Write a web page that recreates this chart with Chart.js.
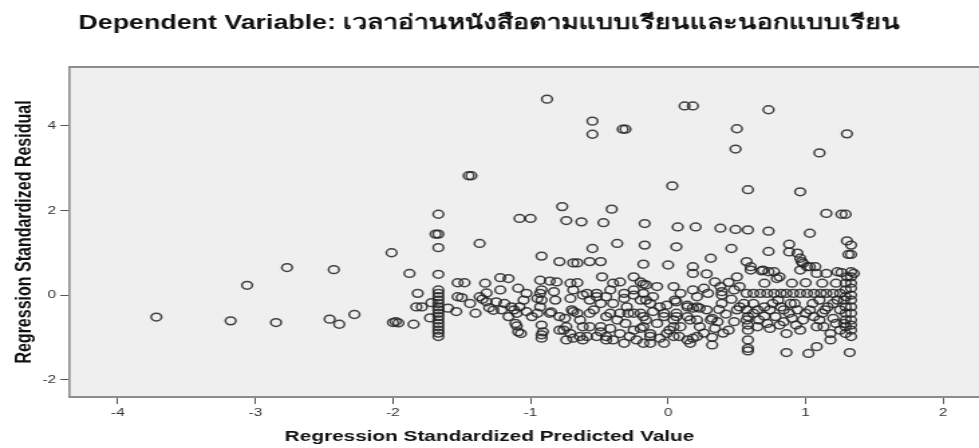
<!DOCTYPE html>
<html>
<head>
<meta charset="utf-8">
<script src="https://cdn.jsdelivr.net/npm/chart.js@4.4.1/dist/chart.umd.min.js"></script>
<style>
  html, body { margin: 0; padding: 0; background: #fff; overflow: hidden; }
  /* the source picture is stretched sideways, so the chart is drawn narrow and scaled */
  #wrap { width: 731px; height: 448px; transform: scaleX(1.3393); transform-origin: 0 0; }
</style>
</head>
<body>
<div id="wrap"><canvas id="residualChart" width="731" height="448"></canvas></div>
<script>
const chartTitle = 'Dependent Variable: เวลาอ่านหนังสือตามแบบเรียนและนอกแบบเรียน';
const xTitle = 'Regression Standardized Predicted Value';
const yTitle = 'Regression Standardized Residual';
const xTicks = [-4, -3, -2, -1, 0, 1, 2];
const yTicks = [-2, 0, 2, 4];

// [standardized predicted value, standardized residual]
const residualPoints = [
  [-3.72,-0.52],[-3.18,-0.61],[-3.06,0.23],[-2.85,-0.65],[-2.77,0.65],[-2.43,0.60],[-2.46,-0.57],[-2.39,-0.69],[-2.28,-0.46],
  [-2.01,1.00],[-2.00,-0.65],[-1.98,-0.63],[-1.96,-0.66],
  [-1.88,0.51],[-1.82,0.04],[-1.83,-0.28],[-1.79,-0.28],[-1.85,-0.69],[-1.73,-0.54],[-1.72,-0.18],
  [-1.67,1.91],[-1.69,1.44],[-1.67,1.44],[-1.67,1.12],[-1.67,0.49],[-1.67,0.12],[-1.67,0.04],[-1.67,-0.04],[-1.67,-0.12],[-1.67,-0.20],
  [-1.67,-0.28],[-1.67,-0.35],[-1.67,-0.43],[-1.67,-0.51],[-1.67,-0.59],[-1.67,-0.67],[-1.67,-0.75],[-1.67,-0.83],[-1.67,-0.90],[-1.67,-0.98],
  [-1.60,-0.31],[-1.54,-0.39],[-1.53,0.29],[-1.48,0.29],[-1.53,-0.04],[-1.50,-0.06],[-1.45,2.82],[-1.43,2.82],[-1.44,-0.20],[-1.40,-0.43],
  [-1.37,1.22],[-1.37,-0.04],[-1.35,-0.10],[-1.33,0.28],[-1.32,-0.16],[-1.32,0.05],[-1.30,-0.30],[-1.27,-0.36],
  [-1.22,0.41],[-1.22,0.12],[-1.25,-0.16],[-1.19,-0.20],[-1.21,-0.35],[-1.16,0.39],[-1.16,-0.51],[-1.14,-0.28],[-1.12,-0.35],[-1.11,-0.67],
  [-1.10,-0.43],[-1.10,-0.73],[-1.09,0.16],[-1.09,-0.87],[-1.08,1.81],[-1.08,-0.28],[-1.07,-0.91],[-1.05,-0.12],[-1.03,0.04],[-1.03,-0.39],
  [-1.00,1.81],[-0.99,-0.51],
  [-0.95,-0.08],[-0.95,-0.43],[-0.93,0.35],[-0.92,0.92],[-0.93,0.04],[-0.93,-0.28],[-0.92,0.12],[-0.92,-0.12],[-0.92,-0.71],[-0.91,-0.87],
  [-0.92,-1.02],[-0.92,-0.94],
  [-0.88,4.63],[-0.86,0.33],[-0.86,-0.43],[-0.83,0.08],[-0.82,-0.12],[-0.85,-0.40],[-0.81,0.31],[-0.79,0.79],[-0.79,-0.51],[-0.79,-0.83],
  [-0.77,2.09],[-0.76,-0.83],[-0.75,-0.55],[-0.74,1.76],[-0.74,-0.75],[-0.74,-1.06],
  [-0.71,-0.91],[-0.71,0.28],[-0.71,-0.08],[-0.70,-0.35],[-0.69,0.76],[-0.69,0.12],[-0.69,-0.39],[-0.69,-1.02],[-0.66,0.29],[-0.66,0.76],
  [-0.66,-0.43],[-0.64,-0.59],[-0.64,-0.98],[-0.63,1.73],[-0.62,0.00],[-0.62,-0.75],[-0.62,-1.06],[-0.59,-0.98],[-0.59,0.04],[-0.57,0.79],
  [-0.57,-0.12],[-0.57,-0.43],[-0.57,-0.75],[-0.55,4.11],[-0.55,3.80],[-0.55,1.10],[-0.54,-0.35],[-0.52,-0.04],[-0.52,0.04],[-0.52,-0.98],
  [-0.49,0.79],[-0.49,-0.20],[-0.49,-0.75],[-0.49,-0.87],[-0.48,0.43],[-0.47,1.71],
  [-0.45,-0.98],[-0.45,-0.04],[-0.45,-0.51],[-0.45,-1.06],[-0.42,0.12],[-0.42,-0.43],[-0.42,-0.79],[-0.41,2.03],[-0.40,0.28],[-0.40,-0.20],
  [-0.40,-1.06],[-0.37,1.22],[-0.37,-0.59],[-0.35,0.31],[-0.35,-0.43],[-0.35,-0.91],[-0.33,3.92],[-0.31,3.92],[-0.32,0.04],[-0.32,-0.08],
  [-0.32,-1.14],[-0.31,-0.67],[-0.30,-0.28],[-0.29,-0.43],[-0.28,-0.98],[-0.25,0.43],[-0.25,0.12],[-0.25,0.00],[-0.25,-0.43],[-0.25,-0.83],
  [-0.23,-1.06],
  [-0.20,0.31],[-0.20,-0.12],[-0.20,-0.43],[-0.20,-0.79],[-0.18,0.26],[-0.18,0.73],[-0.18,0.04],[-0.18,-0.51],[-0.18,-0.75],[-0.18,-1.14],
  [-0.17,1.69],[-0.17,1.18],[-0.16,-0.12],[-0.16,-0.59],[-0.16,0.24],[-0.13,-0.20],[-0.13,-0.91],[-0.13,-0.98],[-0.13,-1.14],[-0.11,-0.04],
  [-0.11,-0.39],[-0.08,0.20],[-0.08,-0.67],[-0.06,-0.28],[-0.06,-1.02],[-0.03,-0.43],[-0.03,-0.51],[-0.03,-1.14],[-0.01,-0.24],[-0.01,-0.91],
  [0.00,0.71],[0.01,-0.83],
  [0.03,2.58],[0.04,0.20],[0.04,-0.75],[0.04,-0.59],[0.04,-0.98],[0.05,-0.12],[0.06,-0.43],[0.06,-0.16],[0.06,-0.51],[0.06,1.14],
  [0.07,1.61],[0.08,-0.98],[0.09,0.04],[0.09,-0.75],[0.12,4.47],[0.14,-0.28],[0.14,-0.24],[0.14,-0.51],[0.14,-1.06],[0.16,-0.59],
  [0.16,-1.14],[0.18,4.47],[0.18,0.67],[0.18,0.51],[0.18,-0.31],[0.18,-1.02],[0.18,0.12],[0.20,1.61],[0.21,-0.04],[0.21,-0.28],
  [0.21,-0.59],[0.21,-0.98],[0.23,-0.31],[0.23,-0.75],
  [0.26,0.16],[0.29,0.04],[0.31,0.87],[0.31,-0.59],[0.32,-0.55],[0.32,-1.18],[0.32,-1.00],[0.34,0.31],[0.34,-0.79],[0.37,-0.34],
  [0.38,1.58],[0.38,0.20],[0.39,0.08],[0.39,0.00],[0.39,-0.20],[0.42,-0.45],[0.44,-0.83],[0.46,1.10],[0.48,-0.63],[0.49,3.45],
  [0.49,1.55],[0.50,3.93],[0.50,0.43],[0.50,-0.35],
  [0.28,-0.35],[0.26,-0.90],[0.36,-0.63],[0.40,-0.90],[0.28,0.50],[0.44,0.30],[0.46,-0.10],[0.48,0.12],[0.52,0.20],
  [0.57,0.79],[0.57,0.04],[0.57,-0.35],[0.57,-0.59],[0.58,2.49],[0.58,1.54],[0.58,-0.51],[0.58,-0.71],[0.58,-0.83],[0.58,-1.06],
  [0.58,-1.26],[0.58,-1.32],[0.60,0.67],[0.60,0.59],[0.62,-0.20],[0.62,0.04],[0.65,-0.35],[0.65,-0.75],[0.67,0.04],[0.68,0.57],
  [0.69,0.59],[0.70,-0.50],[0.72,0.04],[0.73,4.38],[0.73,1.51],[0.73,1.03],[0.73,0.55],[0.74,-0.35],[0.74,-0.79],[0.77,0.04],
  [0.77,0.55],[0.79,0.39],[0.80,-0.12],
  [0.52,-0.28],[0.55,-0.20],[0.62,-0.43],[0.66,-0.59],[0.70,-0.28],[0.72,-0.67],[0.76,-0.20],[0.78,-0.51],[0.70,0.28],
  [0.81,0.43],[0.81,-0.71],[0.82,0.04],[0.84,-0.35],[0.86,0.04],[0.86,-0.91],[0.86,-1.36],[0.88,1.20],[0.88,1.02],[0.89,-0.20],
  [0.90,-0.55],[0.91,0.04],[0.94,0.99],[0.94,-0.35],[0.96,2.44],[0.96,0.87],[0.96,0.59],[0.96,0.04],[0.96,-0.83],[0.97,0.79],
  [0.98,0.75],[1.00,0.29],[1.00,-0.43],[1.01,0.67],[1.01,0.04],[1.02,-1.38],[1.03,1.46],[1.03,0.67],[1.03,-0.35],[1.06,0.04],
  [1.07,0.67],[1.08,0.51],[1.08,-0.75],[1.08,-1.22],[1.10,3.36],[1.10,-0.12],[1.10,-0.59],[1.11,0.04],
  [0.82,-0.28],[0.84,-0.63],[0.88,-0.43],[0.92,-0.20],[0.93,-0.71],[0.98,-0.59],[1.05,-0.20],[1.06,-0.51],[0.90,0.28],
  [1.15,1.93],[1.15,0.51],[1.15,0.04],[1.14,-0.35],[1.18,-0.91],[1.18,-1.06],[1.20,0.04],[1.20,-0.20],[1.20,-0.55],[1.23,0.55],
  [1.25,0.04],[1.25,-0.35],[1.25,-0.83],[1.26,1.91],[1.26,0.53],[1.28,-0.12],[1.28,-0.67],[1.29,1.91],[1.29,0.28],[1.29,0.12],
  [1.29,-0.04],[1.29,-0.28],[1.29,-0.43],[1.29,-0.59],[1.29,-0.75],[1.29,-0.91],[1.30,3.81],[1.30,1.28],[1.30,0.43],[1.31,0.96],
  [1.32,-1.36],[1.33,1.18],[1.33,0.96],[1.33,0.55],[1.33,0.43],[1.33,0.28],[1.33,0.16],[1.33,0.00],[1.33,-0.12],[1.33,-0.28],
  [1.33,-0.43],[1.33,-0.59],[1.33,-0.71],[1.33,-0.83],[1.33,-0.98],[1.35,0.51],
  [1.12,-0.43],[1.13,-0.75],[1.16,-0.28],[1.22,-0.67],[1.23,-0.12],[1.22,0.28],[1.12,0.28]
];

const fontFamily = '"Liberation Sans", Arial, sans-serif';

// grey plot panel plus the top frame line
const plotFrame = {
  id: 'plotFrame',
  beforeDraw(chart) {
    const { ctx, chartArea: a } = chart;
    ctx.save();
    ctx.fillStyle = '#efefef';
    ctx.fillRect(a.left, a.top, a.right - a.left, a.bottom - a.top);
    ctx.strokeStyle = '#8c8c8c';
    ctx.lineWidth = 2;
    ctx.beginPath();
    ctx.moveTo(a.left, a.top);
    ctx.lineTo(a.right, a.top);
    ctx.stroke();
    ctx.restore();
  },
  // x-axis title sits centred on the page rather than on the clipped plot
  afterDraw(chart) {
    const { ctx, width, height } = chart;
    ctx.save();
    ctx.fillStyle = '#111';
    ctx.font = 'bold 15.5px ' + fontFamily;
    ctx.textAlign = 'center';
    ctx.textBaseline = 'middle';
    ctx.fillText(xTitle, width / 2, height - 11);
    ctx.restore();
  }
};

const canvas = document.getElementById('residualChart');
new Chart(canvas.getContext('2d'), {
  type: 'scatter',
  data: {
    datasets: [{
      data: residualPoints.map(p => ({ x: p[0], y: p[1] })),
      pointStyle: 'circle',
      pointRadius: 3.9,
      pointBorderWidth: 1.5,
      pointBackgroundColor: 'rgba(0,0,0,0)',
      pointBorderColor: 'rgba(35,35,35,0.85)'
    }]
  },
  options: {
    responsive: false,
    animation: false,
    devicePixelRatio: 1,
    layout: { padding: 0, autoPadding: false },
    plugins: {
      legend: { display: false },
      tooltip: { enabled: false },
      title: {
        display: true,
        text: chartTitle,
        color: '#111',
        font: { family: fontFamily, size: 20, weight: 'bold', lineHeight: 1.2 },
        padding: { top: 11, bottom: 32 }
      }
    },
    scales: {
      x: {
        type: 'linear',
        min: -4.35,
        max: 2.26,
        afterFit(scale) { scale.height = 51; },
        afterBuildTicks(scale) { scale.ticks = xTicks.map(v => ({ value: v })); },
        border: { display: true, color: '#8c8c8c', width: 2 },
        grid: { drawOnChartArea: false, drawTicks: true, tickLength: 7, tickColor: '#555', tickWidth: 1 },
        ticks: { color: '#333', padding: 2, maxRotation: 0, font: { family: fontFamily, size: 11.5 } },
        title: { display: false, text: xTitle }
      },
      y: {
        type: 'linear',
        min: -2.41,
        max: 5.39,
        afterFit(scale) { scale.width = 52; },
        afterBuildTicks(scale) { scale.ticks = yTicks.map(v => ({ value: v })); },
        border: { display: true, color: '#8c8c8c', width: 1.6 },
        grid: { drawOnChartArea: false, drawTicks: true, tickLength: 7, tickColor: '#555', tickWidth: 1 },
        ticks: { color: '#333', padding: 3, font: { family: fontFamily, size: 11.5 } },
        title: {
          display: true,
          text: yTitle,
          color: '#111',
          font: { family: fontFamily, size: 16, weight: 'bold', lineHeight: 1.2 },
          padding: { top: 9, bottom: 0 }
        }
      }
    }
  },
  plugins: [plotFrame]
});
</script>
</body>
</html>
